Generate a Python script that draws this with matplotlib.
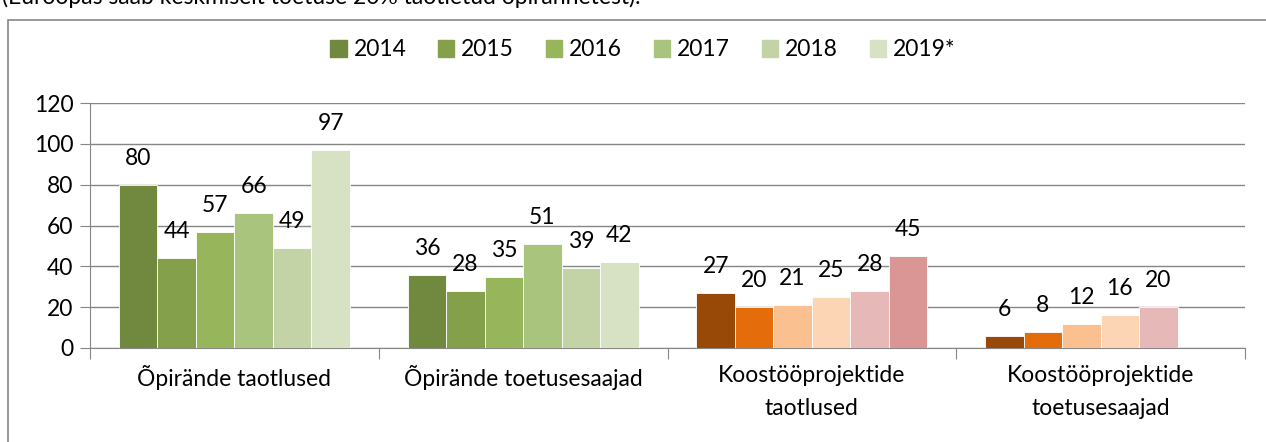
import numpy as np
import matplotlib.pyplot as plt
from matplotlib.patches import Rectangle

plt.rcParams['font.family'] = ['Lato', 'DejaVu Sans']

categories = ['Õpirände taotlused', 'Õpirände toetusesaajad',
              'Koostööprojektide\ntaotlused', 'Koostööprojektide\ntoetusesaajad']
years = ['2014', '2015', '2016', '2017', '2018', '2019*']
# rows: category, columns: year (None = no value)
values = [
    [80, 44, 57, 66, 49, 97],
    [36, 28, 35, 51, 39, 42],
    [27, 20, 21, 25, 28, 45],
    [6, 8, 12, 16, 20, None],
]
green = ['#71893F', '#84A04B', '#97B55A', '#A9C47C', '#C3D3A6', '#D7E2C5']
orange = ['#984807', '#E46C0A', '#FAC090', '#FCD5B5', '#E6B9B8', '#D99694']
group_colors = [green, green, orange, orange]

W, H = 1266, 442
fs = 16.5
fig = plt.figure(figsize=(W / 100, H / 100), dpi=100)
ax = fig.add_axes([90 / W, 94 / H, 1155 / W, 245 / H])

grey = '#868686'
n = len(years)
bw = 0.8 / n
x = np.arange(len(categories))
for i, yr in enumerate(years):
    for c in range(len(categories)):
        v = values[c][i]
        if v is None:
            continue
        xpos = x[c] - 0.4 + bw * (i + 0.5)
        ax.bar(xpos, v, width=bw, color=group_colors[c][i], edgecolor='white',
               linewidth=0.6, zorder=3)
        ax.annotate(str(v), (xpos, v), xytext=(0, 19), textcoords='offset points',
                    ha='center', va='center', fontsize=fs)

# legend (green palette)
handles = [Rectangle((0, 0), 1, 1, color=green[i]) for i in range(n)]
fig.legend(handles, years, loc='center', bbox_to_anchor=(643 / W, 1 - 50 / H),
           ncol=6, frameon=False, fontsize=fs, handlelength=0.7, handleheight=0.7,
           handletextpad=0.3, columnspacing=1.4)

ax.set_xlim(-0.5, len(categories) - 0.5)
ax.set_ylim(0, 120)
ax.set_yticks(range(0, 121, 20))
ax.yaxis.grid(True, color=grey, linewidth=1, zorder=0)
ax.set_axisbelow(True)
ax.set_xticks(np.arange(-0.5, len(categories), 1))
ax.set_xticklabels([])
ax.set_xticks(x, minor=True)
ax.set_xticklabels(categories, minor=True, fontsize=fs, linespacing=1.75)
ax.tick_params(axis='x', which='major', length=8, color=grey, direction='out')
ax.tick_params(axis='x', which='minor', length=0, pad=12)
ax.tick_params(axis='y', length=7, color=grey, labelsize=fs, pad=5)
for s in ['top', 'right']:
    ax.spines[s].set_visible(False)
for s in ['left', 'bottom']:
    ax.spines[s].set_color(grey)

# outer chart frame
fig.patches.append(Rectangle((8 / W, -0.1), 1.2, 1.1 - 20 / H, transform=fig.transFigure,
                             fill=False, edgecolor=grey, linewidth=1.2))
fig.text(2 / W, 1 + 3 / H, '(Euroopas saab keskmiselt toetuse 20% taotletud õpirännetest).',
         ha='left', va='center', fontsize=fs)

fig.savefig('out.png', dpi=100)
